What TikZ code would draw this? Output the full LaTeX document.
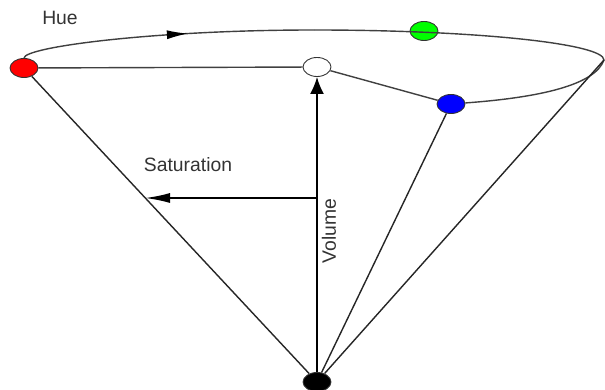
\documentclass[tikz,border=0pt]{standalone}
\usepackage{fontspec}
\setmainfont{Liberation Sans}
\usetikzlibrary{shapes.geometric, arrows.meta, decorations.markings}

\begin{document}
\begin{tikzpicture}[
    dot/.style={ellipse, draw=black!80, line width=0.5pt, minimum width=0.56cm, minimum height=0.38cm, inner sep=0pt},
    rim/.style={draw=black!75, line width=0.8pt},
    edge/.style={draw=black!85, line width=0.8pt},
    axis/.style={draw=black, line width=1.1pt},
    lbl/.style={text=black!80, font=\fontsize{11}{13}\selectfont, inner sep=0pt}
]
    \useasboundingbox (0,0) rectangle (12.1,7.8);

    % Colour points
    \node[dot, fill=red] (red) at (0.48, 6.44) {};
    \node[dot, fill=green] (green) at (8.48, 7.18) {};
    \node[dot, fill=white] (white) at (6.34, 6.46) {};
    \node[dot, fill=blue] (blue) at (9.02, 5.72) {};
    \node[dot, fill=black] (black) at (6.34, 0.16) {};
    \coordinate (rimend) at (12.08, 6.60);
    \coordinate (top) at (6.28, 7.20);

    % Hue circle
    \draw[rim, postaction={decorate}, decoration={markings,
        mark=at position 0.57 with {\arrow[black]{Latex[length=4.2mm, width=1.8mm]}}}]
        (red) .. controls (0.48, 6.86) and (3.08, 7.20) .. (top);
    \draw[rim] (top) .. controls (9.48, 7.20) and (12.08, 6.93) .. (rimend);
    \draw[rim] (blue) .. controls (10.8, 5.85) and (11.9, 6.10) .. (rimend);

    % Radii
    \draw[rim] (red) -- (white);
    \draw[rim] (white) -- (blue);

    % Cone
    \draw[edge] (red) -- (black);
    \draw[edge] (blue) -- (black);
    \draw[edge] (rimend) -- (black);

    % Axes
    \coordinate (satstart) at (6.34, 3.84);
    \coordinate (satend) at (2.90, 3.84);
    \draw[axis, -{Latex[length=3.4mm, width=2.8mm]}] (black) -- (white);
    \draw[axis, -{Latex[length=5mm, width=2mm]}] (satstart) -- (satend);

    % Labels
    \node[lbl] (hue) at (1.20, 7.44) {Hue};
    \node[lbl] (sat) at (3.76, 4.50) {Saturation};
    \node[lbl, rotate=90] (vol) at (6.58, 3.18) {Volume};

\end{tikzpicture}
\end{document}
